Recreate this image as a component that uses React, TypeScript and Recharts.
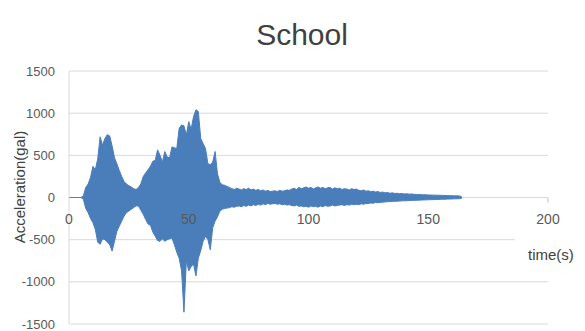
import React from "react";
import { ComposedChart, Area, XAxis, YAxis, CartesianGrid, ReferenceDot } from "recharts";

// Sampling interval of the record (s)
const DT = 1;

// Upper envelope (max acceleration, gal) per 1 s bin, t = 0..164 s
const UPPER = [
  0, 0, 0, 0, 0, 0, 20, 120, 160, 240,
  370, 330, 460, 720, 620, 700, 745, 730, 610, 470,
  400, 320, 250, 190, 160, 140, 125, 105, 95, 120,
  160, 250, 290, 330, 370, 430, 440, 565, 500, 420,
  545, 480, 470, 600, 590, 580, 820, 860, 850, 740,
  900, 810, 960, 1040, 1020, 700, 640, 580, 400, 390,
  420, 545, 280, 180, 150, 145, 130, 120, 105, 95,
  110, 100, 90, 105, 95, 110, 90, 100, 85, 95,
  80, 90, 75, 85, 70, 75, 80, 70, 85, 75,
  80, 90, 85, 100, 110, 95, 120, 105, 115, 125,
  110, 120, 100, 115, 125, 110, 120, 105, 115, 120,
  100, 115, 105, 110, 95, 105, 100, 90, 105, 95,
  100, 85, 80, 90, 75, 80, 70, 75, 65, 70,
  60, 65, 55, 60, 50, 55, 48, 50, 45, 47,
  42, 45, 40, 42, 38, 36, 35, 34, 32, 32,
  30, 30, 28, 28, 27, 26, 25, 24, 23, 22,
  21, 20, 20, 18, 10,
];

// Lower envelope (min acceleration, gal) per 1 s bin, t = 0..164 s
const LOWER = [
  0, 0, 0, 0, 0, 0, -20, -130, -180, -250,
  -300, -380, -530, -555, -490, -500, -530, -560, -635, -520,
  -400, -340, -280, -220, -180, -160, -140, -120, -100, -100,
  -150, -200, -260, -315, -330, -410, -460, -510, -520, -490,
  -520, -500, -490, -480, -560, -650, -720, -870, -1360, -750,
  -870, -820, -790, -930, -720, -630, -520, -460, -500, -620,
  -360, -280, -230, -160, -140, -130, -125, -120, -110, -115,
  -105, -100, -110, -95, -105, -90, -100, -85, -95, -80,
  -90, -75, -85, -70, -80, -75, -70, -80, -75, -85,
  -80, -90, -85, -95, -100, -90, -105, -100, -110, -105,
  -115, -100, -110, -105, -115, -100, -110, -95, -105, -100,
  -90, -100, -95, -90, -85, -95, -85, -90, -80, -85,
  -80, -85, -75, -80, -70, -72, -65, -68, -60, -62,
  -58, -55, -52, -50, -48, -47, -45, -44, -42, -40,
  -39, -38, -36, -35, -34, -33, -32, -30, -29, -28,
  -27, -26, -25, -24, -23, -22, -21, -20, -19, -18,
  -17, -16, -15, -14, -8,
];

const X_TICKS = [0, 50, 100, 150, 200];
const Y_TICKS = [-1500, -1000, -500, 0, 500, 1000, 1500];

const TITLE = "School";
const Y_LABEL = "Acceleration(gal)";
const X_LABEL = "time(s)";

const data = UPPER.map((u, i) => ({ t: i * DT, range: [LOWER[i], u] }));

const FONT = "'Liberation Sans', Arial, sans-serif";
const BLUE = "#4a7ebb";

const XTickMark = (props: any) => {
  const { cx, cy, payload } = props;
  return (
    <g>
      {payload === 200 ? <line x1={cx} y1={cy} x2={cx} y2={cy + 5} stroke="#bfbfbf" /> : null}
      <text x={cx} y={cy + 26} textAnchor="middle" fontSize={14} fontFamily={FONT} fill="#595959">
        {payload}
      </text>
    </g>
  );
};

export default function App() {
  return (
    <div style={{ position: "relative", width: 585, height: 331, background: "#fff" }}>
      <style>{"body{margin:0}"}</style>
      <ComposedChart
        width={585}
        height={331}
        data={data}
        margin={{ top: 71, right: 37, bottom: 7, left: 0 }}
      >
        <CartesianGrid horizontal vertical={false} stroke="#d9d9d9" />
        <XAxis type="number" dataKey="t" domain={[0, 200]} ticks={X_TICKS} hide />
        <YAxis
          type="number"
          domain={[-1500, 1500]}
          ticks={Y_TICKS}
          width={69}
          axisLine={{ stroke: "#d9d9d9" }}
          tickLine={false}
          tickSize={0}
          tickMargin={14}
          tick={{ fontSize: 13, fontFamily: FONT, fill: "#595959" }}
          interval={0}
        />
        <Area
          type="linear"
          dataKey="range"
          stroke={BLUE}
          strokeWidth={1}
          fill={BLUE}
          fillOpacity={1}
          dot={false}
          activeDot={false}
          isAnimationActive={false}
        />
        {X_TICKS.map((v) => (
          <ReferenceDot
            key={v}
            x={v}
            y={0}
            r={0}
            ifOverflow="visible"
            shape={(p: any) => <XTickMark {...p} payload={v} />}
          />
        ))}
      </ComposedChart>
      <svg
        width={585}
        height={331}
        style={{ position: "absolute", left: 0, top: 0, pointerEvents: "none" }}
      >
        <text x={302} y={45} textAnchor="middle" fontSize={30} fontFamily={FONT} fill="#404040">
          {TITLE}
        </text>
        <text
          transform="translate(25,187) rotate(-90)"
          textAnchor="middle"
          fontSize={15}
          fontFamily={FONT}
          fill="#404040"
        >
          {Y_LABEL}
        </text>
        <rect x={515} y={236} width={70} height={38} fill="#fff" />
        <text x={528} y={260} fontSize={15} fontFamily={FONT} fill="#404040">
          {X_LABEL}
        </text>
      </svg>
    </div>
  );
}
